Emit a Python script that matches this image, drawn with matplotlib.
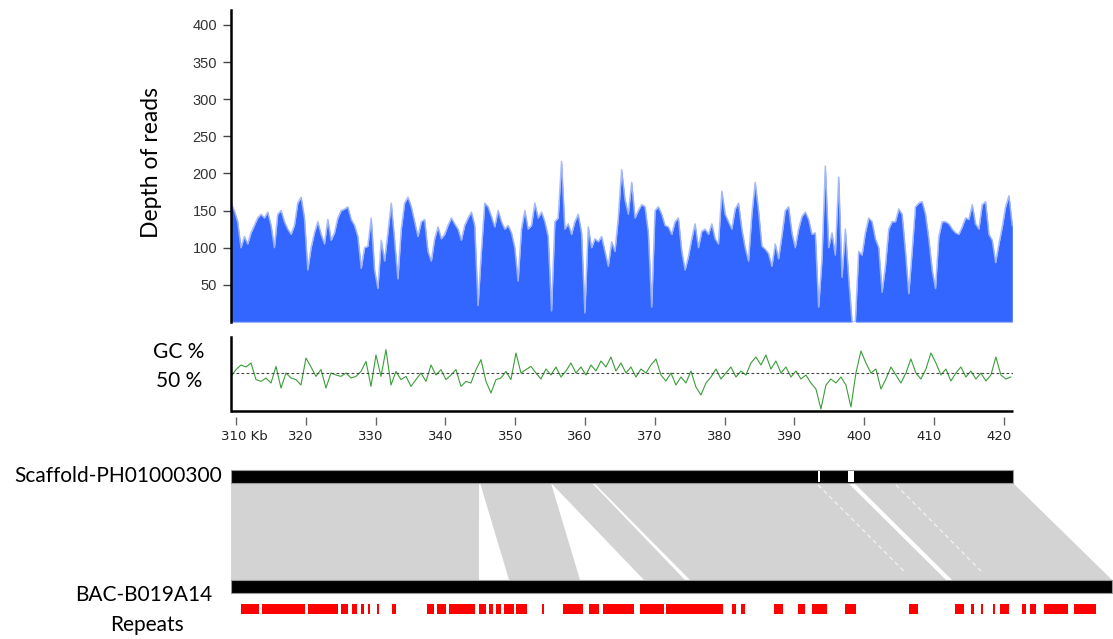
import numpy as np
import matplotlib
matplotlib.use("Agg")
import matplotlib.pyplot as plt
from matplotlib.patches import Rectangle, Polygon
from matplotlib.transforms import ScaledTranslation

# ---------------- data ----------------
scaffold_start, scaffold_end = 309.3, 421.3      # kb shown on the scaffold
bac_length = 126.2                               # kb

# read depth along the scaffold (evenly spaced bins)
depth = [
    160, 150, 135, 100, 115, 105, 120, 130, 140, 145,
    140, 148, 130, 100, 145, 150, 135, 125, 118, 130,
    160, 168, 140, 70, 100, 120, 135, 118, 105, 138,
    110, 120, 140, 150, 152, 155, 138, 130, 115, 72,
    100, 102, 140, 70, 45, 110, 82, 120, 160, 110,
    58, 125, 160, 168, 155, 135, 115, 135, 138, 95,
    82, 112, 128, 112, 118, 130, 140, 132, 125, 110,
    130, 140, 148, 130, 22, 95, 160, 155, 142, 128,
    150, 135, 125, 130, 120, 100, 55, 125, 150, 125,
    130, 160, 140, 148, 135, 115, 15, 135, 140, 216,
    125, 132, 118, 135, 145, 120, 12, 128, 100, 112,
    108, 115, 95, 75, 108, 95, 140, 205, 165,
    145, 188, 140, 150, 158, 155, 120, 20, 150, 155,
    145, 130, 128, 118, 135, 140, 95, 70, 88, 112,
    132, 100, 122, 125, 118, 132, 112, 105, 176, 145,
    135, 125, 152, 160, 125, 100, 82, 145, 188, 150,
    102, 98, 92, 75, 105, 85, 116, 150, 155, 120,
    100, 125, 142, 148, 138, 118, 120, 20, 84, 210,
    100, 120, 90, 195, 60, 125, 60, 0, 0, 95,
    90, 120, 140, 135, 112, 100, 40, 75, 125, 135,
    135, 152, 145, 95, 38, 95, 155, 160, 162, 145,
    112, 70, 45, 115, 135, 135, 132, 125, 120, 118,
    128, 140, 138, 158, 132, 125, 158, 162, 118, 110,
    80, 105, 128, 155, 170, 130,
]

# GC content (%) along the scaffold (evenly spaced windows)
gc = [
    48.3, 51.7, 54, 53, 55, 46.7, 45.8, 47.5, 45, 53.3,
    42.5, 50, 47.5, 46.7, 44, 57.5, 53, 48.3, 51.7, 42.5,
    50, 49, 48.3, 50, 47.5, 48.3, 50.8, 55.8, 43.3, 59,
    48.3, 61.7, 44, 50.8, 46.7, 48.3, 43.3, 46.7, 50, 45.8,
    54, 49, 51.7, 46.7, 49, 51.7, 43.3, 45.8, 45, 51.7,
    56.7, 45.8, 40, 46.7, 47.5, 50.8, 46.7, 60, 50, 51.7, 53.3,
    50, 47, 52, 49, 53, 48, 51, 55, 50, 53,
    49, 54, 51, 56, 53, 58, 51, 55, 50, 53,
    48, 52, 50, 54, 57, 49, 46, 50, 44, 48,
    45, 51, 43, 39, 45, 48, 52, 47, 50, 53,
    48, 51, 49, 55, 58, 54, 59, 52, 56, 50,
    53, 48, 51, 47, 49, 45, 42, 32, 44, 47,
    45, 48, 44, 33, 50, 61, 55, 50, 52, 42,
    47, 53, 49, 45, 50, 57, 50, 47, 52, 60,
    55, 49, 52, 46, 50, 53, 48, 51, 47, 50,
    46, 49, 58, 49, 47, 48,
]
gc_reference = 50

depth_ticks = [50, 100, 150, 200, 250, 300, 350, 400]
kb_ticks = [310, 320, 330, 340, 350, 360, 370, 380, 390, 400, 410, 420]
kb_labels = ["310 Kb", "320", "330", "340", "350", "360", "370", "380",
             "390", "400", "410", "420"]

# gaps (runs of N) in the scaffold, kb
scaffold_gaps_start = [393.40, 397.69]
scaffold_gaps_end = [393.68, 398.55]

# collinear blocks: scaffold kb range -> BAC kb range
block_scaf_start = [309.30, 344.97, 355.13, 361.29, 398.55]
block_scaf_end = [344.83, 355.13, 361.00, 397.69, 421.30]
block_bac_start = [0.00, 39.82, 59.15, 65.74, 103.27]
block_bac_end = [35.52, 49.99, 65.02, 102.41, 126.20]

# weak breaks inside the alignment: scaffold kb -> BAC kb
break_scaf = [393.40, 404.54]
break_bac = [96.5, 107.56]

# repeat annotation on the BAC, kb
repeat_start = [1.43, 4.51, 11.03, 15.76, 17.34, 18.62, 19.63, 20.92, 23.07,
                28.08, 29.44, 31.23, 35.53, 36.96, 37.97, 39.11, 40.83, 44.56,
                47.52, 51.33, 53.27, 58.51, 62.32, 71.75, 73.07, 77.77, 81.17,
                83.27, 87.98, 97.13, 103.68, 106.03, 107.35, 109.17, 110.11,
                113.25, 114.41, 116.40, 120.69]
repeat_end = [4.01, 10.60, 15.26, 16.76, 18.05, 19.00, 19.91, 21.15, 23.64,
              29.08, 30.80, 34.96, 36.53, 37.54, 38.68, 40.54, 42.41, 44.90,
              50.44, 52.65, 57.78, 62.06, 70.44, 72.28, 73.58, 79.08, 82.22,
              85.36, 89.54, 98.45, 104.98, 106.45, 107.71, 109.44, 111.37,
              113.88, 115.36, 119.91, 123.84]

# ---------------- layout ----------------
W, H = 1113, 639


def frame(left, top, right, bottom):
    """Pixel box -> figure-fraction rectangle."""
    return [left / W, 1 - bottom / H, (right - left) / W, (bottom - top) / H]


BLUE = "#3366ff"
BLUE_EDGE = "#9fb5fb"
GREEN = "#3a9e3a"
GREY = "#d3d3d3"
LABEL_FONT = "Lato"

fig = plt.figure(figsize=(W / 100, H / 100), dpi=100)

# ---------------- read depth ----------------
ax1 = fig.add_axes(frame(231, 10, 1013, 322))
pos = np.linspace(scaffold_start, scaffold_end - 0.1, len(depth))
ax1.fill_between(pos, depth, color=BLUE, lw=0, zorder=2)
ax1.plot(pos, depth, color=BLUE_EDGE, lw=1.1, alpha=0.9, zorder=3)
ax1.axhline(0, color=BLUE_EDGE, lw=1.0, zorder=3)
ax1.set_xlim(scaffold_start, scaffold_end)
ax1.set_ylim(0, 420)
for side in ("top", "right", "bottom"):
    ax1.spines[side].set_visible(False)
ax1.spines["left"].set_linewidth(1.8)
ax1.spines["left"].set_zorder(5)
ax1.set_xticks([])
ax1.set_yticks(depth_ticks)
ax1.tick_params(axis="y", length=6, width=1, color="#444", pad=4,
                labelsize=10.5, labelcolor="#333")
for lab in ax1.get_yticklabels():
    lab.set_family("Liberation Sans")

fig.text(151 / W, 1 - 163 / H, "Depth of reads", rotation=90,
         ha="center", va="center", fontsize=16.5, family=LABEL_FONT)

# ---------------- GC content ----------------
ax2 = fig.add_axes(frame(231, 337, 1013, 411))
gc_pos = np.linspace(scaffold_start, scaffold_end - 0.3, len(gc))
ax2.plot(gc_pos, gc, color=GREEN, lw=0.8)
ax2.axhline(gc_reference, color="#444", lw=0.8, ls=(0, (2.5, 2)))
ax2.set_xlim(scaffold_start, scaffold_end)
ax2.set_ylim(31, 68)
for side in ("top", "right"):
    ax2.spines[side].set_visible(False)
ax2.spines["left"].set_linewidth(1.8)
ax2.spines["bottom"].set_position(("outward", 4))
ax2.spines["bottom"].set_visible(False)
ax2.plot([0, 1], [0, 0], transform=ax2.transAxes, color="black", lw=1.8,
         clip_on=False, solid_capstyle="butt")
ax2.set_yticks([])
ax2.set_xticks(kb_ticks)
ax2.set_xticklabels(kb_labels)
ax2.tick_params(axis="x", length=6, width=1, color="#666", pad=4,
                labelsize=9.5, labelcolor="#222")
for i, lab in enumerate(ax2.get_xticklabels()):
    lab.set_family("DejaVu Sans")
    if i == 0:
        lab.set_horizontalalignment("left")
        shift = -15
    else:
        shift = -5
    lab.set_transform(lab.get_transform()
                      + ScaledTranslation(shift / 100, 0, fig.dpi_scale_trans))

fig.text(179 / W, 1 - 352 / H, "GC %", ha="center", va="center",
         fontsize=15, family=LABEL_FONT)
fig.text(179 / W, 1 - 381 / H, "50 %", ha="center", va="center",
         fontsize=15, family=LABEL_FONT)

# ---------------- synteny ----------------
ax3 = fig.add_axes(frame(231, 462, 1113, 626))
ax3.set_xlim(scaffold_start, scaffold_start + 882 / 6.982)
ax3.set_ylim(626, 462)
ax3.axis("off")

SCAF_Y0, SCAF_Y1 = 470, 483
BAC_Y0, BAC_Y1 = 580, 593
REP_Y0, REP_H = 604, 10

for s0, s1, b0, b1 in zip(block_scaf_start, block_scaf_end,
                          block_bac_start, block_bac_end):
    ax3.add_patch(Polygon([(s0, SCAF_Y1), (s1, SCAF_Y1),
                           (scaffold_start + b1, BAC_Y0),
                           (scaffold_start + b0, BAC_Y0)],
                          closed=True, fc=GREY, ec="none", zorder=1))

for s, b in zip(break_scaf, break_bac):
    ax3.plot([s, scaffold_start + b], [SCAF_Y1 + 2, BAC_Y0 - 8],
             color="white", lw=0.8, alpha=0.8, ls=(0, (4, 3)), zorder=2)

ax3.add_patch(Rectangle((scaffold_start, SCAF_Y0),
                        scaffold_end - scaffold_start, SCAF_Y1 - SCAF_Y0,
                        fc="black", ec="#9a9a9a", lw=0.8, zorder=3))
for g0, g1 in zip(scaffold_gaps_start, scaffold_gaps_end):
    ax3.add_patch(Rectangle((g0, SCAF_Y0 + 1.2), g1 - g0,
                            SCAF_Y1 - SCAF_Y0 - 2.4,
                            fc="white", ec="none", zorder=4))

ax3.add_patch(Rectangle((scaffold_start, BAC_Y0), bac_length,
                        BAC_Y1 - BAC_Y0, fc="black", ec="#9a9a9a",
                        lw=0.8, zorder=3))

ax3.broken_barh([(scaffold_start + a, b - a)
                 for a, b in zip(repeat_start, repeat_end)],
                (REP_Y0, REP_H), facecolors="#ff0000", zorder=3)

fig.text(222 / W, 1 - 476 / H, "Scaffold-PH01000300", ha="right",
         va="center", fontsize=15, family=LABEL_FONT)
fig.text(212 / W, 1 - 595 / H, "BAC-B019A14", ha="right", va="center",
         fontsize=15, family=LABEL_FONT)
fig.text(147 / W, 1 - 625 / H, "Repeats", ha="center", va="center",
         fontsize=15, family=LABEL_FONT)

fig.savefig("out.png", dpi=100)
